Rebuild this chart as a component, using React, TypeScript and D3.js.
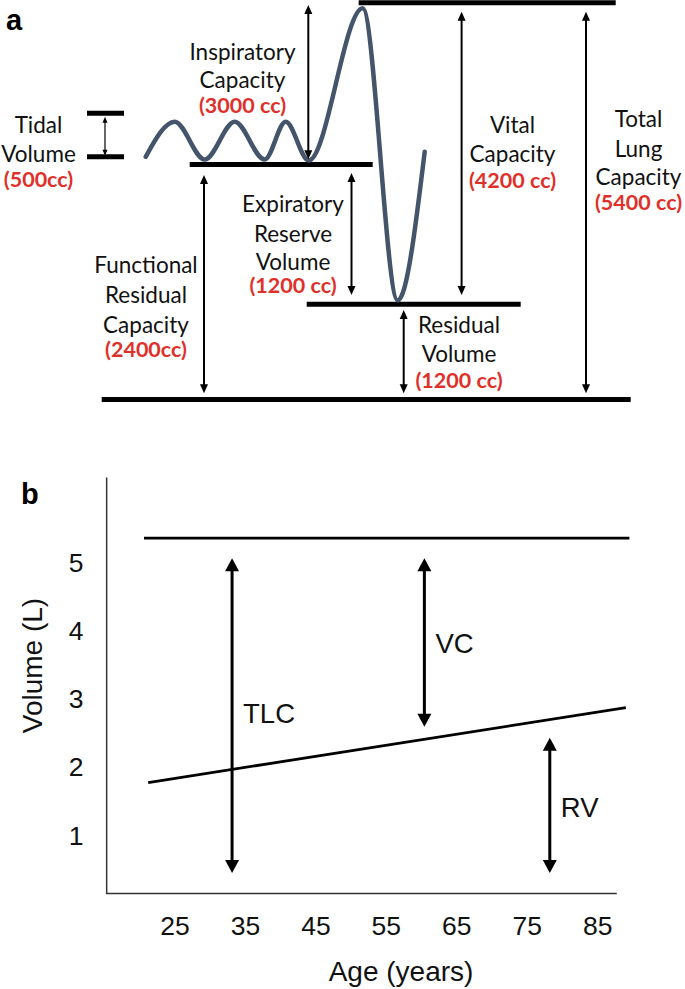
import React from 'react';
import * as d3 from 'd3';

// ---------- Panel a: spirogram (schematic) ----------
// volume levels (cc) used by the schematic scale
const levelVolumesCc = [0, 1200, 2400, 2900, 5400];
// breathing trace key points: time (s) and volume (cc)
const waveTime = [0, 2.9, 5.9, 8.9, 11.9, 14.0, 16.3, 21.7, 25.2, 27.9];
const waveVolume = [2490, 2900, 2458, 2900, 2458, 2900, 2447, 5282, 1233, 2550];

// horizontal reference lines: volume and time extent
const refLineVolume = [5400, 2400, 1200, 0];
const refLineStart = [21.3, 4.4, 16.1, -4.4];
const refLineEnd = [47.0, 22.7, 37.5, 48.5];

// double arrows (time position, from volume, to volume)
const arrowNamesA = ['IC', 'FRC', 'ERV', 'RV', 'VC', 'TLC'];
const arrowTimeA = [16.26, 5.83, 20.58, 25.8, 31.59, 44.03];
const arrowFromA = [2400, 0, 1200, 0, 1200, 0];
const arrowToA = [5400, 2400, 2400, 1200, 5400, 5400];

// tidal volume bracket (cc)
const tidalRange = [0, 500];

// labels
const labelNamesA = ['TV', 'IC', 'FRC', 'ERV', 'RV', 'VC', 'TLC'];
const labelTextsA = [
  ['Tidal', 'Volume'],
  ['Inspiratory', 'Capacity'],
  ['Functional', 'Residual', 'Capacity'],
  ['Expiratory', 'Reserve', 'Volume'],
  ['Residual', 'Volume'],
  ['Vital', 'Capacity'],
  ['Total', 'Lung', 'Capacity'],
];
const labelValuesA = ['(500cc)', '(3000 cc)', '(2400cc)', '(1200 cc)', '(1200 cc)', '(4200 cc)', '(5400 cc)'];

// ---------- Panel b: volumes vs age ----------
const ageTicks = [25, 35, 45, 55, 65, 75, 85];
const volumeTicks = [1, 2, 3, 4, 5];
const ageAxisExtent = [15.3, 87.7];
const volumeAxisExtent = [0.14, 6.25];
const tlcLineAge = [20.6, 89.5];
const tlcLineVolume = [5.36, 5.36];
const rvLineAge = [21.2, 89.0];
const rvLineVolume = [1.77, 2.87];
const arrowNamesB = ['TLC', 'VC', 'RV'];
const arrowAgeB = [33.1, 60.4, 78.2];
const arrowFromB = [0.44, 2.59, 0.44];
const arrowToB = [5.065, 5.065, 2.43];
const arrowLabelVolumeB = [2.65, 3.68, 1.27];

// ---------- styles ----------
const W = 685;
const H = 989;
const RED = '#e0302a';
const WAVE = '#44546a';
const fontA = "Lato, 'Open Sans', sans-serif";
const fontB = "'Liberation Sans', Arial, sans-serif";
const fsA = 22.5;
const fsAValue = 21.5;

const arrowInsetA: Record<string, [number, number]> = {
  IC: [2.3, 5.2],
  FRC: [10.5, 6.1],
  ERV: [8.5, 9.3],
  RV: [5.7, 6.1],
  VC: [9, 9.3],
  TLC: [9, 6.1],
};
const labelPosA: Record<string, { x: number; baselines: number[] }> = {
  TV: { x: 38.5, baselines: [132.7, 161.7, 186.7] },
  IC: { x: 242.5, baselines: [60, 87.7, 113.3] },
  FRC: { x: 146, baselines: [273.3, 302.7, 332.7, 356.7] },
  ERV: { x: 293, baselines: [212.3, 241.7, 270, 293.3] },
  RV: { x: 459, baselines: [332.7, 361.7, 387.7] },
  VC: { x: 512.5, baselines: [133.3, 162.3, 188.3] },
  TLC: { x: 638.5, baselines: [126.7, 156.7, 185, 210] },
};

function DoubleArrow({ x, top, bottom, lw, head, hw, color = '#000' }: any) {
  return (
    <g>
      <line x1={x} x2={x} y1={top + head * 0.7} y2={bottom - head * 0.7} stroke={color} strokeWidth={lw} />
      <path d={`M${x},${top}L${x - hw / 2},${top + head}L${x + hw / 2},${top + head}Z`} fill={color} />
      <path d={`M${x},${bottom}L${x - hw / 2},${bottom - head}L${x + hw / 2},${bottom - head}Z`} fill={color} />
    </g>
  );
}

export default function App() {
  // panel a scales
  const yA = d3.scaleLinear().domain(levelVolumesCc).range([399.4, 304.3, 164.5, 121.7, 2.7]);
  const xA = d3.scaleLinear().domain([0, 10]).range([145.7, 245.7]);
  const yTidal = d3.scaleLinear().domain(tidalRange).range([156.7, 113.3]);

  const wavePts: [number, number][] = waveTime.map((t, i) => [xA(t), yA(waveVolume[i])]);
  const wavePath = d3.line().curve(d3.curveMonotoneX)(wavePts) || '';

  // panel b scales
  const xB = d3.scaleLinear().domain([25, 85]).range([175, 597.7]);
  const yB = d3.scaleLinear().domain([1, 5]).range([835, 562.7]);
  const lineB = d3.line<[number, number]>().x((d) => xB(d[0])).y((d) => yB(d[1]));

  return (
    <svg width={W} height={H} style={{ position: 'absolute', left: 0, top: 0, background: '#fff' }}>
      <rect x={0} y={0} width={W} height={H} fill="#fff" />
      {/* ---------------- Panel a ---------------- */}
      <text x={6} y={30} fontFamily={fontB} fontWeight="bold" fontSize={29}>a</text>

      {refLineVolume.map((v, i) => (
        <line key={'rl' + i} x1={xA(refLineStart[i])} x2={xA(refLineEnd[i])} y1={yA(v)} y2={yA(v)} stroke="#000" strokeWidth={5} />
      ))}

      {/* tidal bracket */}
      {tidalRange.map((v, i) => (
        <line key={'tb' + i} x1={87} x2={124} y1={yTidal(v)} y2={yTidal(v)} stroke="#000" strokeWidth={5} />
      ))}
      <DoubleArrow x={105} top={yTidal(tidalRange[1]) + 3.4} bottom={yTidal(tidalRange[0]) - 1} lw={1.2} head={6} hw={5} />

      <path d={wavePath} fill="none" stroke={WAVE} strokeWidth={4.5} strokeLinecap="round" />

      {arrowNamesA.map((n, i) => (
        <DoubleArrow
          key={'aa' + n}
          x={xA(arrowTimeA[i])}
          top={yA(arrowToA[i]) + arrowInsetA[n][0]}
          bottom={yA(arrowFromA[i]) - arrowInsetA[n][1]}
          lw={2}
          head={9}
          hw={8}
        />
      ))}

      {labelNamesA.map((n, i) => {
        const p = labelPosA[n];
        const lines = labelTextsA[i];
        return (
          <g key={'la' + n} fontFamily={fontA} textAnchor="middle">
            {lines.map((s, j) => (
              <text key={j} x={p.x} y={p.baselines[j]} fill="#111" fontSize={fsA}>{s}</text>
            ))}
            <text x={p.x} y={p.baselines[lines.length]} fill={RED} fontWeight="bold" fontSize={fsAValue}>{labelValuesA[i]}</text>
          </g>
        );
      })}

      {/* ---------------- Panel b ---------------- */}
      <text x={21} y={504} fontFamily={fontB} fontWeight="bold" fontSize={29}>b</text>

      <path
        d={`M${xB(ageAxisExtent[0])},${yB(volumeAxisExtent[1])}V${yB(volumeAxisExtent[0])}H${xB(ageAxisExtent[1])}`}
        fill="none"
        stroke="#333"
        strokeWidth={1.5}
      />

      {ageTicks.map((t) => (
        <text key={'xt' + t} x={xB(t)} y={935} textAnchor="middle" fontFamily={fontB} fontSize={26.5} fill="#111">{t}</text>
      ))}
      {volumeTicks.map((t) => (
        <text key={'yt' + t} x={76} y={yB(t)} dy="0.36em" textAnchor="middle" fontFamily={fontB} fontSize={26.5} fill="#111">{t}</text>
      ))}

      <text x={401} y={981} textAnchor="middle" fontFamily={fontB} fontSize={28} fill="#111">Age (years)</text>
      <text transform={`translate(42,665.5) rotate(-90)`} textAnchor="middle" fontFamily={fontB} fontSize={28} fill="#111">Volume (L)</text>

      <path d={lineB(tlcLineAge.map((a, i) => [a, tlcLineVolume[i]] as [number, number])) || ''} stroke="#000" strokeWidth={2.8} fill="none" />
      <path d={lineB(rvLineAge.map((a, i) => [a, rvLineVolume[i]] as [number, number])) || ''} stroke="#000" strokeWidth={2.8} fill="none" />

      {arrowNamesB.map((n, i) => (
        <g key={'ab' + n}>
          <DoubleArrow x={xB(arrowAgeB[i])} top={yB(arrowToB[i])} bottom={yB(arrowFromB[i])} lw={3} head={13} hw={14} />
          <text x={xB(arrowAgeB[i]) + 11} y={yB(arrowLabelVolumeB[i])} fontFamily={fontB} fontSize={27.5} fill="#111">{n}</text>
        </g>
      ))}
    </svg>
  );
}
